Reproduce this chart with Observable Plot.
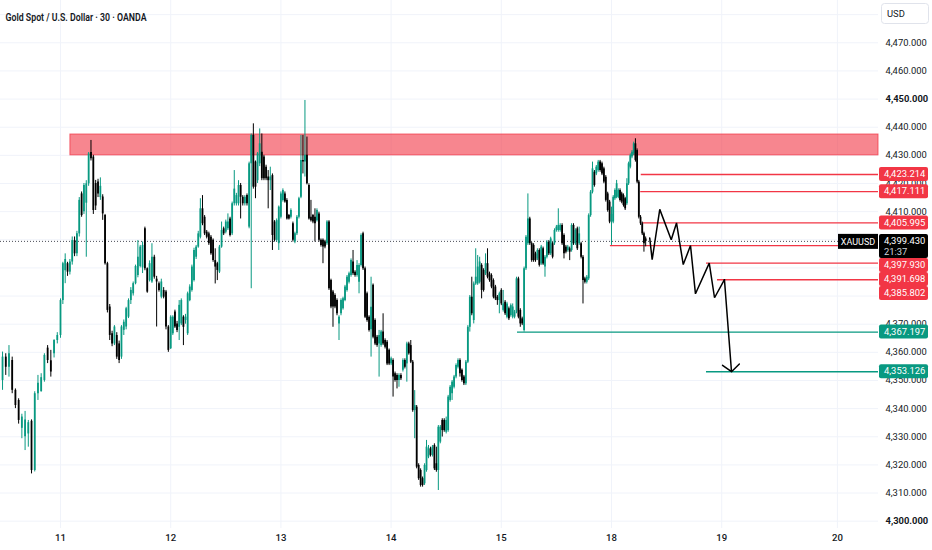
<!DOCTYPE html>
<html><head><meta charset="utf-8">
<script src="https://cdn.jsdelivr.net/npm/d3@7"></script>
<script src="https://cdn.jsdelivr.net/npm/@observablehq/plot@0.6"></script>
<style>html,body{margin:0;padding:0;background:#fff;overflow:hidden}#chart svg{display:block}</style>
</head><body><div id="chart"></div>
<script>
const title = "Gold Spot / U.S. Dollar · 30 · OANDA";
const symbol = "XAUUSD";
const currency = "USD";
const lastPrice = 4399.43;
const lastTime = "21:37";
const dayLabels = ["11","12","13","14","15","18","19","20"];
const dayT = [0,1,2,3,4,5,6,7.05];
const priceTicks = [4300,4310,4320,4330,4340,4350,4360,4370,4380,4390,4400,4410,4420,4430,4440,4450,4460,4470,4480];
// labels the price scale shows (4,380 / 4,390 / 4,400 are hidden behind the price tags)
const priceLabels = [4300,4310,4320,4330,4340,4350,4360,4370,4410,4420,4430,4440,4450,4460,4470];
const boldLabels = [4300,4450];

// 30-minute candles (open, high, low, close)
const O = [4350.0,4358.3,4354.7,4357.1,4346.5,4342.9,4333.0,4330.0,4331.0,4335.5,
4318.0,4345.3,4346.0,4350.0,4361.5,4357.0,4359.5,4364.2,4366.0,4378.4,
4389.0,4391.5,4388.5,4392.1,4399.7,4395.0,4402.1,4416.3,4410.0,4413.0,
4419.9,4431.0,4429.4,4420.0,4420.5,4415.0,4415.2,4408.6,4391.5,4376.1,
4366.6,4363.0,4366.0,4363.0,4358.3,4367.8,4369.0,4372.5,4378.4,4380.8,
4384.4,4387.3,4390.5,4390.0,4403.9,4389.7,4385.5,4385.0,4393.8,4386.0,
4384.4,4379.6,4382.0,4381.4,4369.0,4361.3,4366.6,4374.3,4370.1,4368.9,
4370.1,4372.5,4371.3,4366.6,4378.4,4382.0,4385.5,4393.8,4397.4,4400.9,
4411.0,4408.0,4402.7,4402.1,4400.9,4399.8,4392.6,4391.5,4388.5,4397.4,
4403.9,4402.7,4403.9,4407.4,4402.1,4412.8,4412.8,4412.8,4419.3,4415.1,
4412.8,4415.7,4404.5,4427.0,4437.1,4427.6,4421.0,4427.0,4431.1,4429.4,
4425.8,4422.3,4421.0,4422.8,4406.3,4399.8,4398.6,4408.0,4414.0,4416.3,
4414.0,4408.6,4408.0,4405.7,4399.2,4402.1,4408.0,4415.1,4428.2,4427.6,
4430.0,4419.3,4408.0,4408.6,4408.0,4406.8,4409.2,4399.8,4399.8,4399.2,
4398.6,4406.3,4385.5,4381.4,4380.2,4378.4,4370.1,4373.7,4375.5,4378.4,
4382.0,4384.9,4387.3,4392.1,4388.5,4387.3,4384.9,4390.9,4402.1,4389.7,
4380.8,4372.5,4368.0,4383.8,4371.3,4365.4,4363.0,4362.4,4367.2,4364.2,
4363.6,4360.7,4355.9,4357.1,4352.4,4351.8,4350.0,4351.8,4353.6,4357.1,
4355.9,4363.0,4362.4,4356.5,4339.3,4340.5,4319.8,4318.0,4315.1,4313.3,
4318.0,4322.8,4325.7,4323.4,4326.9,4320.4,4318.0,4328.1,4335.8,4335.8,
4331.6,4332.2,4342.9,4345.3,4347.6,4351.2,4354.7,4357.1,4353.6,4351.2,
4348.8,4356.5,4368.9,4379.6,4371.3,4384.3,4384.3,4384.9,4390.9,4389.1,
4387.9,4391.5,4387.9,4387.3,4385.5,4383.2,4379.6,4378.4,4382.0,4374.9,
4377.8,4372.5,4375.5,4373.1,4372.5,4372.5,4374.3,4386.1,4374.9,4371.9,
4367.8,4389.7,4398.6,4407.4,4398.6,4398.0,4395.0,4393.2,4396.2,4391.4,
4396.8,4390.3,4393.8,4399.1,4395.0,4398.6,4398.6,4403.3,4403.3,4403.3,
4405.1,4401.5,4397.4,4396.2,4396.8,4396.2,4405.1,4398.6,4403.9,4398.6,
4398.6,4393.8,4386.1,4384.9,4386.1,4408.6,4416.9,4424.0,4423.4,4424.6,
4427.6,4427.0,4425.2,4422.2,4416.3,4413.4,4406.3,4406.3,4414.6,4415.1,
4415.1,4417.5,4416.3,4415.7,4414.6,4412.8,4419.9,4425.8,4429.4,4430.5,
4434.1,4431.7,4420.5,4408.0,4405.7,4402.1,4400.3];
const H = [4360.1,4359.5,4362.4,4358.3,4347.0,4343.5,4338.0,4339.0,4335.8,4336.0,
4346.0,4351.8,4352.4,4359.5,4362.4,4360.7,4364.5,4367.0,4379.0,4392.0,
4395.0,4392.0,4393.0,4401.0,4401.0,4403.0,4415.0,4417.0,4420.0,4421.0,
4431.0,4435.3,4430.0,4421.1,4421.5,4422.0,4416.0,4409.0,4392.0,4377.0,
4367.5,4369.5,4367.0,4364.0,4369.5,4371.5,4376.0,4379.0,4383.0,4385.0,
4391.0,4399.7,4398.0,4399.2,4404.5,4390.0,4392.5,4398.6,4394.5,4387.0,
4385.0,4386.0,4383.0,4382.0,4369.5,4373.0,4373.0,4375.0,4371.0,4378.4,
4379.0,4373.0,4373.5,4381.4,4384.0,4391.0,4397.0,4398.0,4403.0,4414.6,
4415.7,4408.6,4403.3,4402.7,4401.5,4400.3,4396.8,4392.0,4398.0,4406.3,
4404.5,4407.0,4409.2,4408.0,4413.4,4424.6,4416.5,4421.0,4420.0,4415.7,
4415.7,4416.3,4427.6,4437.6,4441.2,4428.0,4431.0,4439.4,4437.6,4430.0,
4426.5,4424.6,4425.8,4423.4,4406.8,4407.4,4412.0,4417.0,4418.1,4417.0,
4414.6,4409.0,4411.0,4406.3,4402.7,4408.6,4415.1,4437.1,4437.1,4449.5,
4436.5,4419.9,4414.0,4409.0,4411.0,4411.0,4409.8,4400.3,4400.3,4399.8,
4406.8,4406.8,4386.0,4382.0,4380.8,4379.0,4373.0,4379.0,4379.6,4383.8,
4387.3,4388.5,4393.2,4396.2,4389.0,4392.6,4391.5,4402.1,4402.7,4390.3,
4381.4,4373.0,4386.7,4384.3,4371.9,4366.0,4367.8,4367.8,4373.7,4364.8,
4364.2,4361.2,4358.3,4357.7,4353.0,4352.4,4352.4,4352.4,4357.7,4357.7,
4363.6,4363.6,4364.2,4357.1,4346.4,4341.1,4320.4,4318.6,4315.7,4320.4,
4328.7,4326.9,4326.3,4326.9,4327.5,4326.3,4334.0,4334.0,4336.4,4336.4,
4337.0,4344.7,4348.2,4350.0,4351.8,4355.9,4357.7,4357.7,4354.1,4351.8,
4357.1,4369.5,4380.2,4386.7,4385.0,4396.8,4394.4,4393.8,4391.5,4389.7,
4395.0,4396.8,4388.5,4387.9,4386.1,4383.8,4380.2,4381.4,4382.6,4382.0,
4378.4,4377.8,4376.1,4377.2,4377.2,4374.9,4386.7,4386.7,4375.5,4372.5,
4390.3,4401.5,4416.3,4408.0,4399.1,4398.6,4395.6,4396.8,4396.8,4398.0,
4397.4,4394.4,4399.7,4399.7,4400.9,4399.1,4403.9,4405.1,4411.0,4405.7,
4405.7,4402.1,4398.0,4398.0,4397.4,4405.7,4405.7,4403.9,4404.5,4404.5,
4399.1,4394.4,4386.7,4387.3,4409.2,4417.5,4427.6,4424.6,4426.4,4428.2,
4428.2,4427.6,4425.8,4422.8,4416.9,4414.0,4411.6,4415.7,4418.1,4421.1,
4418.1,4418.1,4416.9,4416.3,4415.1,4421.7,4427.6,4430.5,4431.7,4434.7,
4435.9,4432.3,4421.1,4408.6,4406.3,4402.7,4401.0];
const L = [4346.5,4351.8,4351.2,4345.3,4340.0,4334.5,4329.3,4325.1,4326.3,4316.8,
4317.5,4342.9,4345.9,4349.4,4356.0,4351.2,4358.0,4363.0,4365.0,4377.0,
4384.4,4387.0,4387.5,4391.0,4394.0,4394.0,4401.0,4408.0,4409.0,4393.8,
4419.0,4428.0,4409.0,4410.4,4415.0,4414.0,4406.9,4391.0,4374.0,4364.2,
4362.0,4362.4,4357.5,4356.0,4357.5,4366.0,4368.0,4372.0,4377.0,4380.0,
4384.0,4386.5,4390.0,4388.0,4389.0,4381.0,4385.0,4384.5,4386.0,4369.0,
4381.4,4379.0,4379.0,4368.0,4360.0,4361.0,4366.0,4368.5,4367.0,4364.2,
4369.5,4362.4,4370.0,4366.0,4378.0,4381.4,4385.0,4393.0,4397.0,4400.3,
4405.0,4401.5,4400.3,4398.0,4394.5,4392.0,4384.3,4385.5,4388.0,4397.0,
4401.5,4402.1,4403.3,4401.0,4401.5,4412.0,4412.0,4412.0,4407.4,4412.0,
4412.0,4412.0,4403.9,4382.6,4418.0,4414.6,4420.0,4426.0,4421.0,4421.0,
4421.0,4411.0,4417.5,4396.2,4399.2,4399.2,4396.2,4407.4,4413.4,4413.0,
4407.0,4407.0,4407.4,4399.2,4398.6,4401.5,4407.4,4414.6,4423.4,4422.3,
4419.5,4407.0,4406.3,4405.7,4399.2,4406.3,4399.2,4397.4,4391.5,4396.8,
4398.0,4382.0,4375.5,4368.9,4375.5,4373.0,4364.2,4373.0,4375.0,4378.0,
4381.4,4384.3,4386.7,4387.3,4386.7,4386.7,4380.8,4390.3,4389.1,4372.0,
4370.7,4367.2,4358.3,4364.8,4362.4,4361.8,4351.2,4361.8,4362.4,4361.2,
4355.3,4355.3,4355.3,4344.1,4349.4,4347.0,4347.6,4350.0,4353.0,4354.1,
4349.4,4359.0,4356.0,4338.7,4329.3,4318.6,4314.5,4312.1,4312.1,4312.7,
4317.4,4322.2,4322.8,4322.8,4318.0,4317.4,4310.9,4327.5,4329.9,4331.6,
4331.0,4331.6,4342.3,4342.9,4347.0,4350.6,4354.1,4351.2,4349.4,4348.2,
4348.2,4356.0,4367.2,4373.0,4370.1,4383.8,4383.8,4384.3,4379.0,4381.4,
4387.3,4386.1,4384.9,4382.6,4379.0,4378.4,4376.7,4373.7,4376.6,4374.3,
4373.1,4371.9,4371.3,4372.5,4371.9,4371.9,4373.7,4371.9,4368.9,4369.5,
4367.2,4389.1,4398.0,4398.0,4392.0,4392.0,4392.0,4392.6,4390.3,4390.9,
4390.9,4386.7,4393.2,4394.4,4394.4,4393.2,4398.0,4402.7,4402.7,4402.7,
4398.0,4393.2,4395.0,4395.6,4392.6,4395.6,4398.0,4398.0,4396.2,4398.0,
4393.2,4377.2,4384.3,4384.3,4385.5,4408.0,4416.3,4418.7,4422.8,4424.0,
4424.0,4422.8,4419.9,4413.4,4409.8,4405.7,4398.0,4405.7,4414.0,4414.6,
4414.6,4413.4,4412.8,4411.6,4410.4,4412.2,4419.3,4425.2,4428.8,4429.9,
4427.6,4419.9,4407.4,4405.1,4401.5,4395.6,4397.5];
const C = [4358.3,4354.7,4359.5,4346.5,4341.1,4335.8,4337.0,4336.0,4335.0,4318.0,
4345.3,4349.0,4351.0,4358.9,4357.1,4353.0,4364.2,4366.0,4378.4,4391.5,
4393.0,4388.5,4392.1,4399.7,4395.0,4402.1,4414.0,4408.6,4419.3,4419.9,
4430.5,4428.8,4410.4,4412.0,4416.3,4419.0,4409.2,4391.5,4374.9,4366.0,
4363.0,4369.0,4358.3,4357.1,4369.0,4370.7,4375.5,4378.4,4382.0,4384.4,
4390.5,4393.8,4397.4,4398.0,4389.7,4381.4,4391.5,4393.8,4386.7,4385.0,
4382.0,4385.0,4379.6,4369.0,4360.7,4372.5,4372.5,4369.0,4367.8,4376.7,
4378.4,4368.9,4372.5,4380.8,4383.2,4390.3,4396.2,4397.4,4402.1,4411.0,
4405.7,4402.1,4400.9,4398.6,4395.0,4392.6,4390.3,4389.1,4397.4,4403.3,
4402.1,4406.3,4406.3,4401.5,4412.8,4418.0,4415.7,4419.3,4415.1,4412.8,
4415.1,4412.8,4427.0,4437.1,4418.7,4418.7,4430.5,4434.1,4421.7,4421.7,
4421.7,4421.0,4422.3,4401.5,4399.8,4406.8,4411.6,4416.3,4417.5,4413.4,
4407.4,4407.4,4410.4,4399.8,4402.1,4408.0,4414.6,4428.2,4427.6,4430.0,
4419.9,4407.4,4406.8,4406.3,4405.7,4410.4,4399.8,4398.0,4397.4,4397.4,
4406.3,4382.6,4376.1,4376.1,4376.1,4373.7,4372.5,4378.4,4379.0,4383.2,
4386.7,4387.9,4392.6,4387.9,4387.3,4390.9,4390.9,4401.5,4389.7,4372.5,
4371.3,4367.8,4376.0,4365.4,4363.0,4362.4,4366.0,4367.2,4363.0,4361.8,
4355.9,4355.9,4357.7,4351.2,4350.0,4350.0,4351.8,4350.6,4357.1,4354.7,
4363.0,4359.5,4356.5,4339.3,4341.1,4319.2,4315.1,4312.7,4312.7,4319.8,
4326.3,4325.7,4323.4,4326.3,4318.6,4318.0,4333.4,4333.4,4332.2,4332.2,
4335.8,4344.1,4347.6,4349.4,4351.2,4355.3,4357.1,4352.4,4350.0,4348.8,
4356.5,4368.9,4379.6,4373.7,4384.3,4386.7,4390.3,4392.1,4382.0,4382.0,
4391.5,4386.7,4385.5,4383.2,4379.6,4379.0,4378.4,4380.8,4377.2,4377.2,
4373.7,4377.2,4371.9,4376.6,4376.1,4374.3,4386.1,4372.5,4370.1,4370.1,
4389.7,4400.9,4407.4,4398.6,4392.6,4392.6,4392.6,4396.2,4390.9,4397.4,
4391.4,4393.8,4399.1,4395.0,4400.3,4393.8,4403.3,4404.5,4405.1,4405.1,
4398.6,4395.0,4395.6,4397.4,4395.6,4405.1,4398.6,4403.3,4396.8,4402.1,
4393.8,4385.5,4384.9,4386.7,4408.6,4416.9,4425.2,4419.3,4425.8,4427.6,
4424.6,4423.4,4420.5,4414.0,4410.4,4406.3,4409.0,4415.1,4417.5,4419.9,
4417.5,4414.0,4413.4,4412.2,4411.0,4419.9,4427.0,4429.9,4431.1,4434.1,
4428.2,4420.5,4408.0,4405.7,4402.1,4398.6,4399.4];

// bar index -> session-day time (day 11 = 0, 12 = 1, ... 18 = 5)
const anchorIdx = [0, 18, 65, 117, 172, 228, 286, 306];
const anchorT = [-0.526, 0, 1, 2, 3, 4, 5, 5.31];

// drawings
const zoneLow = 4430.0, zoneHigh = 4437.4, zoneStartT = 0.09;
const redLevels = [4423.214, 4417.111, 4405.995, 4397.930, 4391.698, 4385.802];
const redStartT = [5.27, 5.265, 5.28, 4.99, 5.862, 5.962];
const greenLevels = [4367.197, 4353.126];
const greenStartT = [4.147, 5.862];
const zigT = [5.347, 5.369, 5.438, 5.542, 5.590, 5.651, 5.717, 5.762, 5.887, 5.935, 6.025, 6.089];
const zigP = [4400.6, 4392.9, 4410.8, 4400.0, 4405.995, 4391.2, 4397.93, 4380.8, 4391.698, 4379.4, 4385.802, 4353.126];

const xDomain = [-0.5445, 7.4229];
const yDomain = [4297.4, 4485.03];
const UP = "#089981", DOWN = "#000000", RED = "#f23645", INK = "#131722";
const FONT = "Roboto, 'Noto Sans', sans-serif";
const fmt = d3.format(",.3f");

const tOf = d3.scaleLinear().domain(anchorIdx).range(anchorT);
const candles = O.map((o, i) => ({t: tOf(i), open: o, high: H[i], low: L[i], close: C[i], up: C[i] >= o}));
const levels = [
  ...redLevels.map((p, i) => ({p, t1: redStartT[i], color: RED})),
  ...greenLevels.map((p, i) => ({p, t1: greenStartT[i], color: UP}))
];
const zig = zigT.map((t, i) => ({t, p: zigP[i]}));
const zigLine = zig.slice(0, zig.length - 1);
const zigArrow = [{x1: zig[zig.length - 2].t, y1: zig[zig.length - 2].p, x2: zig[zig.length - 1].t, y2: zig[zig.length - 1].p}];

const chart = Plot.plot({
  width: 932, height: 550,
  marginLeft: 0, marginRight: 54, marginTop: 0, marginBottom: 22,
  x: {type: "linear", domain: xDomain, axis: null},
  y: {type: "linear", domain: yDomain, axis: null},
  style: {fontFamily: FONT, background: "#ffffff", color: INK},
  marks: [
    Plot.ruleY(priceTicks, {y: d => d, stroke: "#f0f3fa", strokeWidth: 1}),
    Plot.ruleX(dayT, {x: d => d, stroke: "#f0f3fa", strokeWidth: 1}),
    Plot.rect([{x1: zoneStartT, x2: xDomain[1], y1: zoneLow, y2: zoneHigh}],
      {x1: "x1", x2: "x2", y1: "y1", y2: "y2", fill: RED, fillOpacity: 0.6, stroke: RED, strokeOpacity: 0.75, strokeWidth: 1}),
    Plot.ruleY([lastPrice], {y: d => d, stroke: "#4a4d57", strokeWidth: 1, strokeDasharray: "1,2"}),
    Plot.ruleY(levels, {y: "p", x1: "t1", x2: () => xDomain[1], stroke: d => d.color, strokeWidth: 1.4}),
    Plot.ruleX(candles, {x: "t", y1: "low", y2: "high", stroke: d => d.up ? UP : DOWN, strokeWidth: 1}),
    Plot.ruleX(candles, {x: "t", y1: "open", y2: "close", stroke: d => d.up ? UP : DOWN, strokeWidth: 1.8}),
    Plot.line(zigLine, {x: "t", y: "p", stroke: "#000", strokeWidth: 1.5, strokeLinejoin: "miter"}),
    Plot.arrow(zigArrow, {x1: "x1", y1: "y1", x2: "x2", y2: "y2", stroke: "#000", strokeWidth: 1.5, headLength: 11, headAngle: 100}),
    Plot.text(priceLabels.filter(d => !boldLabels.includes(d)), {y: d => d, text: d => fmt(d), frameAnchor: "right", textAnchor: "start", dx: 7, fontSize: 9.4, fill: INK}),
    Plot.text(boldLabels, {y: d => d, text: d => fmt(d), frameAnchor: "right", textAnchor: "start", dx: 7, fontSize: 9.4, fontWeight: "bold", fill: INK}),
    Plot.text(dayT, {x: d => d, text: (d, i) => dayLabels[i], frameAnchor: "bottom", dy: 12, fontSize: 9.6, fontWeight: 500, fill: INK}),
    Plot.text([title], {text: d => d, frameAnchor: "top-left", textAnchor: "start", dx: 5, dy: 13, fontSize: 10.3, fontWeight: 600, fill: INK})
  ]
});
document.getElementById("chart").append(chart);

// price-scale tags, drawn with Plot's own y scale
const ys = chart.scale("y");
const yPx = ys.apply ? (v => ys.apply(v)) : d3.scaleLinear(ys.domain, ys.range);
const svg = d3.select(chart);
svg.selectAll("text").filter(function() { return this.textContent === title; })
  .attr("textLength", 141).attr("lengthAdjust", "spacingAndGlyphs");

const axisLeft = 932 - 54;
const tags = [
  ...redLevels.map(p => ({p, fill: RED, lines: [fmt(p)], h: 14})),
  ...greenLevels.map(p => ({p, fill: UP, lines: [fmt(p)], h: 14})),
  {p: lastPrice, fill: "#000", lines: [fmt(lastPrice), lastTime], h: 24}
].map(d => ({...d, top: yPx(d.p) - 7})).sort((a, b) => a.top - b.top);
let bottom = -Infinity;
for (const d of tags) { d.top = Math.max(d.top, bottom); bottom = d.top + d.h; }
const g = svg.append("g").attr("font-family", FONT).attr("font-size", 9.4).attr("text-anchor", "start");
for (const d of tags) {
  g.append("rect").attr("x", axisLeft + 1).attr("y", d.top).attr("width", 49).attr("height", d.h).attr("rx", 2).attr("fill", d.fill);
  d.lines.forEach((s, i) => g.append("text").attr("x", axisLeft + 6).attr("y", d.top + 7 + i * 11)
    .attr("dy", "0.35em").attr("text-anchor", "start").attr("fill", i ? "#d1d4dc" : "#fff").text(s));
}
const ly = yPx(lastPrice) - 7;
g.append("rect").attr("x", axisLeft - 40).attr("y", ly).attr("width", 40).attr("height", 15).attr("fill", "#000");
g.append("text").attr("x", axisLeft - 20).attr("y", ly + 7.5).attr("dy", "0.35em").attr("text-anchor", "middle")
  .attr("fill", "#fff").attr("font-size", 9).text(symbol);
g.append("rect").attr("x", axisLeft + 3.5).attr("y", 3.5).attr("width", 47).attr("height", 20).attr("rx", 3)
  .attr("fill", "#fff").attr("stroke", "#e0e3eb");
g.append("text").attr("x", axisLeft + 9).attr("y", 13.5).attr("dy", "0.35em").attr("text-anchor", "start").attr("fill", INK).text(currency);
</script></body></html>
